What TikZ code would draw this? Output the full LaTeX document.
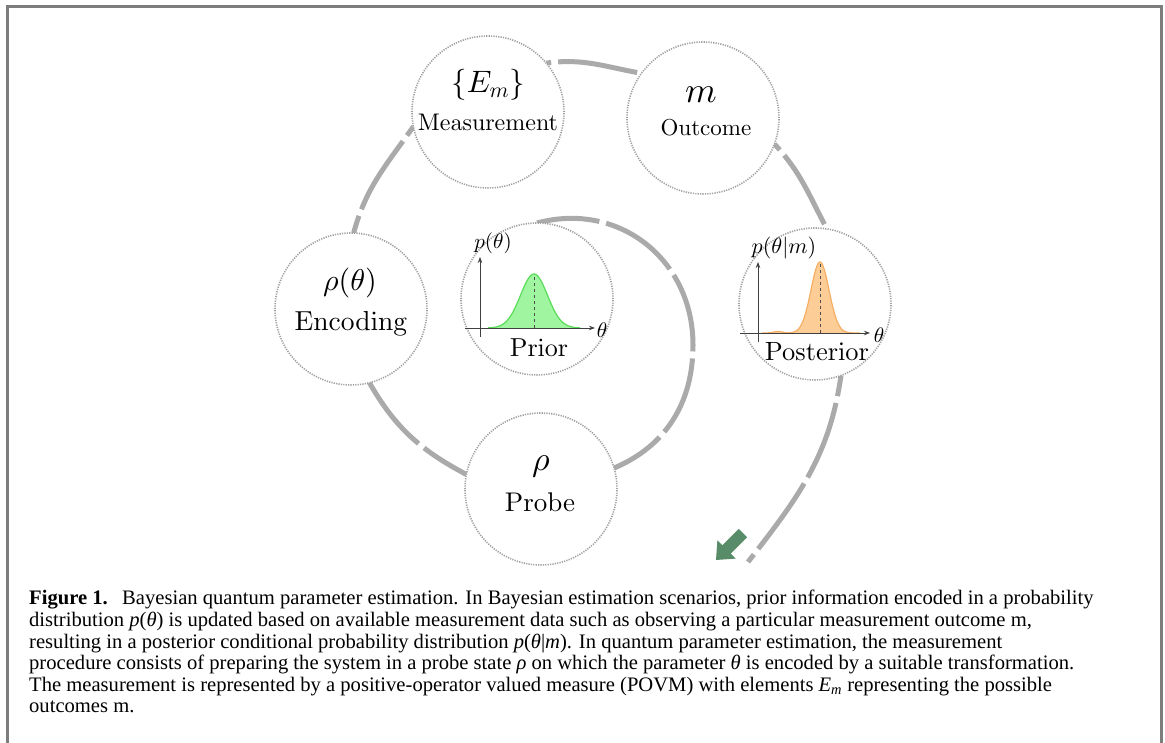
\documentclass[tikz,border=0pt]{standalone}
\usepackage{fontspec}
\newfontfamily\capfont{Liberation Serif}
\usetikzlibrary{arrows.meta}
\DeclareFontFamily{OT1}{cmrten}{}
\DeclareFontShape{OT1}{cmrten}{m}{n}{<->cmr10}{}
\DeclareFontShape{OML}{cmm}{m}{it}{<->cmmi10}{}
\DeclareFontShape{OMS}{cmsy}{m}{n}{<->cmsy10}{}
\DeclareFontShape{OT1}{cmr}{m}{n}{<->cmr10}{}
\newcommand\cmten{\fontencoding{OT1}\fontfamily{cmrten}\selectfont}
\pgfdeclarelayer{bg}
\pgfsetlayers{bg,main}
\definecolor{arcgray}{RGB}{170,170,170}
\definecolor{dotgray}{RGB}{160,160,160}
\definecolor{framegray}{RGB}{125,125,125}
\definecolor{arrowgreen}{RGB}{88,140,105}
\definecolor{priorfill}{RGB}{160,245,160}
\definecolor{priorline}{RGB}{90,220,90}
\definecolor{postfill}{RGB}{252,205,150}
\definecolor{postline}{RGB}{245,175,100}
\newcommand\setfs[1]{\fontsize{#1}{#1}\selectfont}
\begin{document}
\begin{tikzpicture}[x=1pt,y=1pt,
  stage/.style={circle, minimum size=152pt, inner sep=0pt, outer sep=0pt, draw=dotgray, line width=1.6pt, dash pattern=on 1.2pt off 1.2pt, fill=white},
  flow/.style={draw=arcgray, line width=5pt, dash pattern=on 80pt off 7pt},
  lbl/.style={inner sep=0pt, anchor=base, font=\cmten},
  axis/.style={line width=0.8pt, black!75, -{Stealth[length=6pt,width=4.5pt]}},
  captext/.style={anchor=base west, inner sep=0pt, font=\capfont\fontsize{20.6}{22}\selectfont}
]
\useasboundingbox (0,0) rectangle (1165,743);
% frame
\draw[framegray, line width=3pt] (7,0) -- (7,736) -- (1161,736) -- (1161,0);
% stages
\node[stage] (meas) at (488,631) {};
\node[stage] (outc) at (703,625) {};
\node[stage] (enc) at (351,434) {};
\node[stage] (prior) at (537,444) {};
\node[stage] (post) at (815,439) {};
\node[stage] (probe) at (541,254) {};
\coordinate (ar) at (693,398);
\coordinate (tail) at (748,181);
% flow arcs
\begin{pgfonlayer}{bg}
\draw[flow, dash phase=17pt] (prior.90) to[out=15,in=90,looseness=1.1] (ar) to[out=-90,in=23] (probe.16);
\draw[flow, dash phase=30pt] (probe.169) to[out=152,in=-60] (enc.-76);
\draw[flow, dash phase=62pt] (enc.88) to[out=75,in=235] (meas.191);
\draw[flow, dash phase=75pt] (meas.40) to[out=8,in=170] (outc.144);
\draw[flow, dash phase=72pt] (outc.-20) to[out=-47,in=118] (post.81);
\draw[flow, dash phase=59pt] (post.-70) to[out=-98,in=52] (tail);
\end{pgfonlayer}
% green arrow
\fill[arrowgreen] (716,183) -- (735.8,184.4) -- (730.8,189.4) -- (747.1,205.7) -- (738.7,214.1) -- (722.4,197.8) -- (717.4,202.8) -- cycle;
% labels
\node[lbl] (measm) at (488,650) {\setfs{31}$\{E_m\}$};
\node[lbl] (meast) at (488,612.6) {\setfs{24}Measurement};
\node[lbl] (outcm) at (701,640) {\setfs{36}$m$};
\node[lbl] (outct) at (706,607) {\setfs{23}Outcome};
\node[lbl] (encm) at (350,452.5) {\setfs{30}$\rho(\theta)$};
\node[lbl] (enct) at (351,412) {\setfs{27.5}Encoding};
\node[lbl] (probem) at (541,272) {\setfs{34}$\rho$};
\node[lbl] (probet) at (540,231.5) {\setfs{27}Probe};
\node[lbl] (priort) at (539,386) {\setfs{26}Prior};
\node[lbl] (postt) at (817,382) {\setfs{26.4}Posterior};
% prior plot
\fill[priorfill] (488,415) -- plot[domain=488:580,samples=80] (\x,{415+54*exp(-(\x-534)*(\x-534)/364.5)}) -- (580,415) -- cycle;
\draw[priorline, line width=1.2pt] plot[domain=488:580,samples=80] (\x,{415+54*exp(-(\x-534)*(\x-534)/364.5)});
\draw[dashed, black!70, line width=0.6pt] (534,415) -- (534,469);
\draw[axis] (465,415) -- (595,415);
\draw[axis] (480,406) -- (480,486);
\node[lbl] (priorx) at (602,405) {\setfs{21}$\theta$};
\node[lbl] (priory) at (493,494.7) {\setfs{21}$p(\theta)$};
% posterior plot
\fill[postfill] (762,410) -- plot[domain=762:860,samples=100] (\x,{410+71*exp(-(\x-820)*(\x-820)/162)+1.5*exp(-(\x-778)*(\x-778)/40)}) -- (860,410) -- cycle;
\draw[postline, line width=1.2pt] plot[domain=762:860,samples=100] (\x,{410+71*exp(-(\x-820)*(\x-820)/162)+1.5*exp(-(\x-778)*(\x-778)/40)});
\draw[dashed, black!70, line width=0.6pt] (820,410) -- (820,481);
\draw[axis] (740,410) -- (870,410);
\draw[axis] (758,401) -- (758,481);
\node[lbl] (postx) at (879,400) {\setfs{21}$\theta$};
\node[lbl] (posty) at (784,489.7) {\setfs{22}$p(\theta|m)$};
% caption
\node[captext] (cap1) at (29,138) {\textbf{Figure 1.}\hspace{0.7em}Bayesian quantum parameter estimation. In Bayesian estimation scenarios, prior information encoded in a probability};
\node[captext] (cap2) at (29,116.4) {distribution \textit{p}(\textit{θ}) is updated based on available measurement data such as observing a particular measurement outcome m,};
\node[captext] (cap3) at (29,94.8) {resulting in a posterior conditional probability distribution \textit{p}(\textit{θ}|\textit{m}). In quantum parameter estimation, the measurement};
\node[captext] (cap4) at (29,73.2) {procedure consists of preparing the system in a probe state \textit{ρ} on which the parameter \textit{θ} is encoded by a suitable transformation.};
\node[captext] (cap5) at (29,51.6) {The measurement is represented by a positive-operator valued measure (POVM) with elements \textit{E}\textsubscript{\textit{m}} representing the possible};
\node[captext] (cap6) at (29,30) {outcomes m.};
\end{tikzpicture}
\end{document}
